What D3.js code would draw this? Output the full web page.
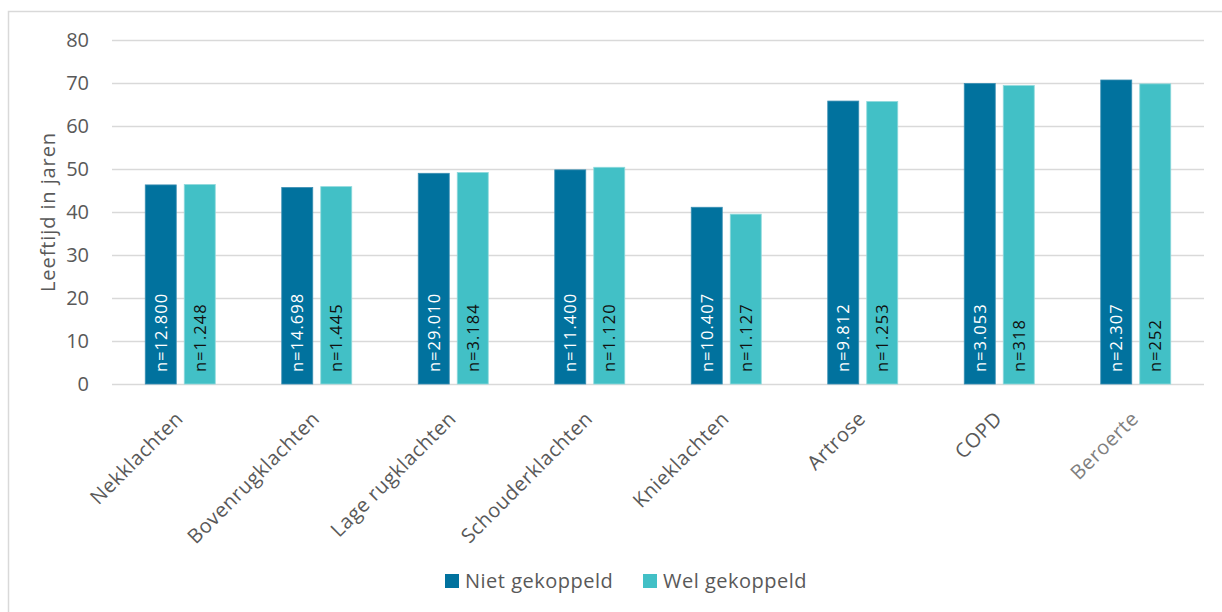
<!DOCTYPE html>
<html>
<head>
<meta charset="utf-8">
<script src="https://cdn.jsdelivr.net/npm/d3@7"></script>
<style>
  body { margin: 0; background: #fff; }
  svg { display: block; }
</style>
</head>
<body>
<svg id="chart" width="1222" height="612"></svg>
<script>
// Data
var categories = ["Nekklachten", "Bovenrugklachten", "Lage rugklachten", "Schouderklachten",
                  "Knieklachten", "Artrose", "COPD", "Beroerte"];
var series = ["Niet gekoppeld", "Wel gekoppeld"];
var nietValues = [46.3, 45.7, 49.0, 49.8, 41.1, 65.8, 69.9, 70.7];
var welValues = [46.4, 45.9, 49.2, 50.4, 39.5, 65.7, 69.4, 69.8];
var nietLabels = ["n=12.800", "n=14.698", "n=29.010", "n=11.400", "n=10.407", "n=9.812", "n=3.053", "n=2.307"];
var welLabels = ["n=1.248", "n=1.445", "n=3.184", "n=1.120", "n=1.127", "n=1.253", "n=318", "n=252"];
var yTicks = [0, 10, 20, 30, 40, 50, 60, 70, 80];

var colors = { "Niet gekoppeld": "#01729E", "Wel gekoppeld": "#42C0C6" };
var textColors = { "Niet gekoppeld": "#ffffff", "Wel gekoppeld": "#111111" };

var rows = categories.map(function(c, i) {
    return {
        cat: c,
        vals: [
            { s: series[0], v: nietValues[i], n: nietLabels[i] },
            { s: series[1], v: welValues[i], n: welLabels[i] }
        ]
    };
});

var svg = d3.select("#chart");
// plotgebied (let op: "top" is al een window-property)
var plotLeft = 112, plotRight = 1204, plotTop = 40, plotBottom = 384;

// kader rond de grafiek
svg.append("rect")
    .attr("x", 8.5).attr("y", 11.5)
    .attr("width", 1240).attr("height", 640)
    .attr("fill", "none")
    .attr("stroke", "#d9d9d9")
    .attr("stroke-width", 1.5);

var y = d3.scaleLinear().domain([0, 80]).range([plotBottom, plotTop]);
var x0 = d3.scaleBand().domain(categories).range([plotLeft, plotRight])
    .paddingInner(1 - 70 / 136.5).paddingOuter((1 - 70 / 136.5) / 2);
var x1 = d3.scaleBand().domain(series).range([0, x0.bandwidth()])
    .paddingInner(8 / 39).paddingOuter(0);

// Gridlijnen
svg.append("g")
    .attr("transform", "translate(" + plotLeft + ",0)")
    .call(d3.axisLeft(y).tickValues(yTicks).tickSize(-(plotRight - plotLeft)).tickFormat(""))
    .call(function(g) {
        g.select(".domain").remove();
        g.selectAll("line").attr("stroke", "#d9d9d9").attr("stroke-width", 1.5);
    });

// Y-as labels
svg.append("g")
    .attr("transform", "translate(89,0)")
    .call(d3.axisLeft(y).tickValues(yTicks).tickSize(0).tickPadding(0))
    .call(function(g) {
        g.select(".domain").remove();
        g.selectAll("text")
            .attr("fill", "#595959")
            .style("font-family", "'Open Sans', sans-serif")
            .style("font-size", "20px");
    });

svg.append("text")
    .attr("transform", "translate(55," + ((plotTop + plotBottom) / 2) + ") rotate(-90)")
    .attr("text-anchor", "middle")
    .attr("fill", "#595959")
    .style("font-family", "'Open Sans', sans-serif")
    .style("font-size", "20px")
    .style("letter-spacing", "0.9px")
    .text("Leeftijd in jaren");

// Staven
var groups = svg.append("g").selectAll("g")
    .data(rows)
    .enter().append("g")
    .attr("transform", function(d) { return "translate(" + x0(d.cat) + ",0)"; });

groups.selectAll("rect")
    .data(function(d) { return d.vals; })
    .enter().append("rect")
    .attr("x", function(d) { return x1(d.s); })
    .attr("y", function(d) { return y(d.v); })
    .attr("width", x1.bandwidth())
    .attr("height", function(d) { return plotBottom - y(d.v); })
    .attr("fill", function(d) { return colors[d.s]; })
    .attr("stroke", function(d) { return d.s === series[1] ? "#8fd9dc" : "#3b8fb3"; })
    .attr("stroke-width", 0.8);

// n-labels in de staven
groups.selectAll("text")
    .data(function(d) { return d.vals; })
    .enter().append("text")
    .attr("transform", function(d) {
        return "translate(" + (x1(d.s) + x1.bandwidth() / 2 + 6) + "," + (plotBottom - 12) + ") rotate(-90)";
    })
    .attr("fill", function(d) { return textColors[d.s]; })
    .style("font-family", "'Open Sans', sans-serif")
    .style("font-size", "16.5px")
    .style("letter-spacing", "1px")
    .text(function(d) { return d.n; });

// X-as labels
svg.append("g").selectAll("text")
    .data(categories)
    .enter().append("text")
    .attr("transform", function(d) {
        return "translate(" + (x0(d) + x0.bandwidth() / 2 + 4) + ",420) rotate(-45)";
    })
    .attr("text-anchor", "end")
    .attr("fill", function(d) { return d === "Beroerte" ? "#7f7f7f" : "#595959"; })
    .style("font-family", "'Open Sans', sans-serif")
    .style("font-size", "20px")
    .style("letter-spacing", "0.5px")
    .text(function(d) { return d; });

// Legenda
var legendX = [445, 643];
var legend = svg.append("g").selectAll("g")
    .data(series)
    .enter().append("g")
    .attr("transform", function(d, i) { return "translate(" + legendX[i] + ",574)"; });

legend.append("rect")
    .attr("width", 14).attr("height", 14)
    .attr("fill", function(d) { return colors[d]; });

legend.append("text")
    .attr("x", 20).attr("y", 14)
    .attr("fill", "#595959")
    .style("font-family", "'Open Sans', sans-serif")
    .style("font-size", "20px")
    .style("letter-spacing", "0.5px")
    .text(function(d) { return d; });
</script>
</body>
</html>
